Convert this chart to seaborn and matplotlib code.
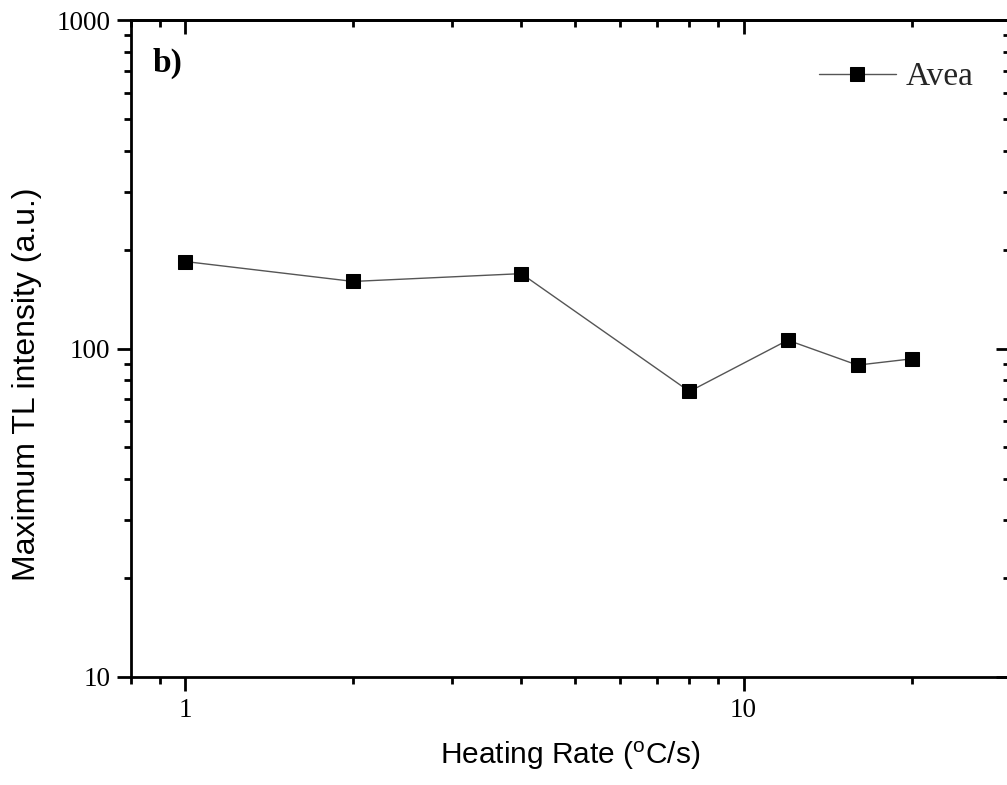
import matplotlib
matplotlib.use("Agg")
import matplotlib.pyplot as plt
import seaborn as sns
import pandas as pd
from matplotlib.ticker import LogLocator, NullFormatter, FixedLocator, FixedFormatter

heating_rate = [1, 2, 4, 8, 12, 16, 20]
max_tl = [184, 160, 169, 74, 106, 89, 93]
series_name = "Avea"

df = pd.DataFrame({"rate": heating_rate, "tl": max_tl, "sample": series_name})

sns.set_theme(style="white")
plt.rcParams["font.family"] = ["Liberation Serif", "DejaVu Serif"]

W, H = 1007, 785
fig = plt.figure(figsize=(W / 100, H / 100), dpi=100)
ax = fig.add_axes([131 / W, (H - 677) / H, (1010 - 131) / W, (677 - 20) / H])

sns.lineplot(data=df, x="rate", y="tl", ax=ax, color="#555555", linewidth=1.0,
             marker="s", markersize=10, markerfacecolor="black",
             markeredgecolor="black", label=series_name, legend=False)

ax.set_xscale("log")
ax.set_yscale("log")
ax.set_xlim(0.8, 30)
ax.set_ylim(10, 1000)

minor_subs = [2, 3, 4, 5, 6, 7, 8, 9]

def setup_log_axis(axis, majors, labels):
    axis.set_major_locator(FixedLocator(majors))
    if labels is None:
        axis.set_major_formatter(NullFormatter())
    else:
        axis.set_major_formatter(FixedFormatter(labels))
    axis.set_minor_locator(LogLocator(base=10, subs=minor_subs))
    axis.set_minor_formatter(NullFormatter())

setup_log_axis(ax.xaxis, [1, 10], ["1", "10"])
setup_log_axis(ax.yaxis, [10, 100, 1000], ["10", "100", "1000"])

for s in ax.spines.values():
    s.set_color("black")
    s.set_linewidth(2.0)

ax.tick_params(axis="both", which="both", bottom=True, left=True, top=False, right=False,
               direction="out", color="black", width=2)
ax.tick_params(axis="both", which="major", length=10, labelsize=19.5, labelcolor="black", pad=5)
ax.tick_params(axis="both", which="minor", length=5)

# inward ticks on top and right
secx = ax.secondary_xaxis("top")
secx.set_xscale("log")
setup_log_axis(secx.xaxis, [1, 10], None)
secx.tick_params(which="both", direction="in", width=2, color="black")
secx.tick_params(which="major", length=10)
secx.tick_params(which="minor", length=5)
secx.spines["top"].set_linewidth(2.0)
secx.spines["top"].set_color("black")

secy = ax.secondary_yaxis("right")
secy.set_yscale("log")
setup_log_axis(secy.yaxis, [10, 100, 1000], None)
secy.tick_params(which="both", direction="in", width=2, color="black")
secy.tick_params(which="major", length=10)
secy.tick_params(which="minor", length=5)

sans = ["Liberation Sans", "DejaVu Sans"]
ax.set_xlabel("Heating Rate ($\\mathregular{^{o}}$C/s)", family=sans,
              fontsize=21.5, color="black", labelpad=12)
ax.set_ylabel("Maximum TL intensity (a.u.)", family=sans,
              fontsize=23, color="black")
ax.yaxis.set_label_coords((42 - 131) / 879, (677 - 384) / 657)

ax.text(0.024, 0.957, "b)", transform=ax.transAxes, fontsize=24, fontweight="bold",
        va="top", ha="left", color="black")

leg = ax.legend(loc="upper right", bbox_to_anchor=(0.985, 0.972), frameon=False,
                fontsize=24, handlelength=2.3, handletextpad=0.3, borderaxespad=0.3)

fig.savefig("out.png", dpi=100)
